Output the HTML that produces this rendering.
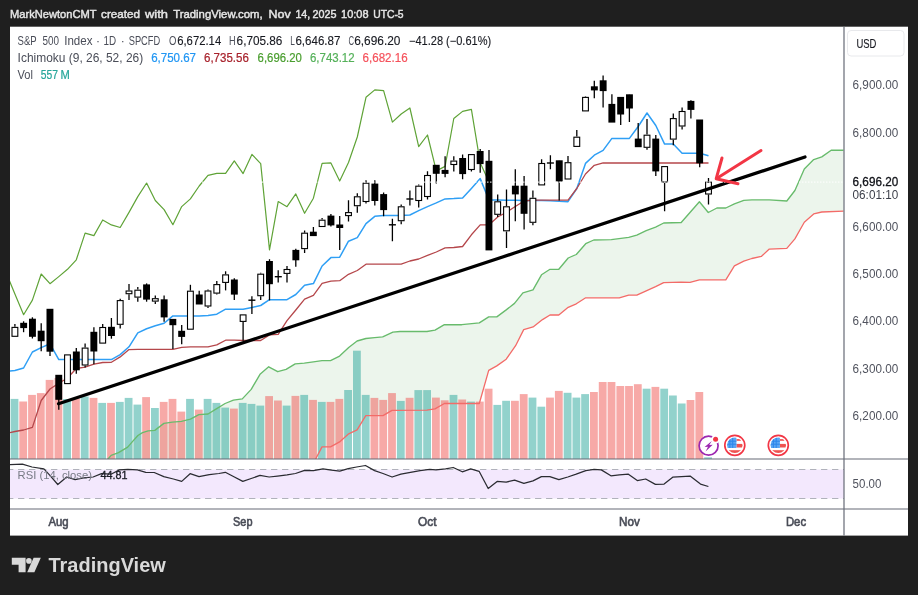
<!DOCTYPE html>
<html lang="en"><head><meta charset="utf-8"><title>S&amp;P 500 Index chart</title>
<style>
html,body{margin:0;padding:0;background:#1f1f1f;}
body{width:918px;height:595px;overflow:hidden;}
svg{display:block;font-family:'Liberation Sans', sans-serif;will-change:transform;}
text{-webkit-font-smoothing:antialiased;}
.txt{opacity:0.999;}
.leg{font-size:12px;}
.ax{font-size:12px;fill:#50535e;}
</style></head><body>
<svg width="918" height="595" viewBox="0 0 918 595">
<rect width="918" height="595" fill="#1f1f1f"/>
<rect x="10" y="26.7" width="898" height="508.9" fill="#ffffff"/>
<defs><clipPath id="main"><rect x="10" y="26.7" width="834" height="432.3"/></clipPath>
<clipPath id="rsi"><rect x="10" y="459" width="834" height="50"/></clipPath></defs>

<g clip-path="url(#main)">
<polygon points="107.6,459.5 111.1,455.4 118.5,452.7 127.7,447.1 132.4,441.6 137.9,435.5 142.5,432.7 148.1,430.8 154.8,430.4 163.9,423.4 172.3,422.1 181.4,421.3 190.4,419.1 198.9,414.6 208.0,414.0 216.7,408.6 225.1,403.5 233.4,400.1 242.3,398.9 251.2,389.4 260.0,374.3 268.7,366.8 277.7,371.7 286.1,369.3 295.2,363.8 304.3,363.2 313.4,361.8 322.0,360.6 330.5,360.6 339.6,356.1 348.7,347.5 357.1,341.0 365.9,338.5 374.6,337.6 382.7,336.8 392.9,332.1 400.0,331.5 426.9,331.5 435.0,330.1 444.4,324.7 461.8,324.7 479.3,322.9 488.7,316.9 496.8,316.9 506.2,309.9 514.5,303.4 522.9,292.9 533.0,289.9 541.5,274.8 550.0,269.3 558.8,269.3 568.2,258.0 576.3,254.5 585.7,243.7 593.8,240.0 611.3,239.7 628.7,237.3 636.8,235.1 646.2,230.6 655.6,227.1 663.7,223.0 681.2,222.5 699.4,201.8 708.3,212.5 716.9,208.0 725.8,208.0 734.4,203.9 743.8,200.4 751.8,199.9 769.3,199.9 786.8,201.0 794.9,190.5 804.3,169.0 813.7,159.6 821.8,156.9 831.2,150.2 843.5,150.2 843.5,211.2 821.8,212.0 813.7,213.9 804.3,222.2 794.9,238.9 786.8,248.3 769.3,249.1 761.3,256.4 751.8,258.5 743.8,261.2 734.4,265.8 725.8,279.8 699.4,279.8 690.0,282.3 681.2,282.2 663.7,282.7 655.6,286.7 646.2,290.8 636.8,295.1 628.7,295.1 619.3,297.8 585.7,297.8 576.3,303.8 568.2,307.3 558.8,315.0 550.0,315.0 542.5,319.6 533.1,326.9 523.7,329.6 515.6,345.7 506.2,359.2 496.8,365.9 488.7,370.4 479.3,403.5 444.4,403.5 435.0,408.9 426.9,410.2 392.0,410.4 383.0,415.6 365.8,415.6 357.1,429.8 348.7,433.8 339.6,441.9 330.5,446.9 322.0,446.9 315.4,459.5" fill="#43a047" fill-opacity="0.10"/>
<g>
<rect x="10.6" y="398.9" width="7.8" height="60.1" fill="#26a69a" fill-opacity="0.5"/>
<rect x="19.3" y="401.5" width="7.8" height="57.5" fill="#ef5350" fill-opacity="0.5"/>
<rect x="28.1" y="394.9" width="7.8" height="64.1" fill="#ef5350" fill-opacity="0.5"/>
<rect x="36.9" y="393.1" width="7.8" height="65.9" fill="#ef5350" fill-opacity="0.5"/>
<rect x="45.7" y="379.9" width="7.8" height="79.1" fill="#ef5350" fill-opacity="0.5"/>
<rect x="54.5" y="378.0" width="7.8" height="81.0" fill="#ef5350" fill-opacity="0.5"/>
<rect x="63.2" y="399.0" width="7.8" height="60.0" fill="#26a69a" fill-opacity="0.5"/>
<rect x="72.0" y="398.5" width="7.8" height="60.5" fill="#ef5350" fill-opacity="0.5"/>
<rect x="80.8" y="396.5" width="7.8" height="62.5" fill="#26a69a" fill-opacity="0.5"/>
<rect x="89.6" y="397.9" width="7.8" height="61.1" fill="#ef5350" fill-opacity="0.5"/>
<rect x="98.3" y="402.9" width="7.8" height="56.1" fill="#26a69a" fill-opacity="0.5"/>
<rect x="107.1" y="402.9" width="7.8" height="56.1" fill="#ef5350" fill-opacity="0.5"/>
<rect x="115.9" y="401.9" width="7.8" height="57.1" fill="#26a69a" fill-opacity="0.5"/>
<rect x="124.7" y="397.9" width="7.8" height="61.1" fill="#26a69a" fill-opacity="0.5"/>
<rect x="133.5" y="404.6" width="7.8" height="54.4" fill="#26a69a" fill-opacity="0.5"/>
<rect x="142.2" y="397.1" width="7.8" height="61.9" fill="#ef5350" fill-opacity="0.5"/>
<rect x="151.0" y="408.0" width="7.8" height="51.0" fill="#26a69a" fill-opacity="0.5"/>
<rect x="159.8" y="401.9" width="7.8" height="57.1" fill="#ef5350" fill-opacity="0.5"/>
<rect x="168.6" y="398.9" width="7.8" height="60.1" fill="#ef5350" fill-opacity="0.5"/>
<rect x="177.4" y="411.6" width="7.8" height="47.4" fill="#ef5350" fill-opacity="0.5"/>
<rect x="186.1" y="398.9" width="7.8" height="60.1" fill="#26a69a" fill-opacity="0.5"/>
<rect x="194.9" y="409.6" width="7.8" height="49.4" fill="#ef5350" fill-opacity="0.5"/>
<rect x="203.7" y="398.9" width="7.8" height="60.1" fill="#26a69a" fill-opacity="0.5"/>
<rect x="212.5" y="402.9" width="7.8" height="56.1" fill="#26a69a" fill-opacity="0.5"/>
<rect x="221.3" y="407.6" width="7.8" height="51.4" fill="#26a69a" fill-opacity="0.5"/>
<rect x="230.0" y="408.6" width="7.8" height="50.4" fill="#ef5350" fill-opacity="0.5"/>
<rect x="238.8" y="402.9" width="7.8" height="56.1" fill="#26a69a" fill-opacity="0.5"/>
<rect x="247.6" y="403.9" width="7.8" height="55.1" fill="#26a69a" fill-opacity="0.5"/>
<rect x="256.4" y="405.6" width="7.8" height="53.4" fill="#26a69a" fill-opacity="0.5"/>
<rect x="265.2" y="396.1" width="7.8" height="62.9" fill="#ef5350" fill-opacity="0.5"/>
<rect x="274.0" y="400.5" width="7.8" height="58.5" fill="#ef5350" fill-opacity="0.5"/>
<rect x="282.7" y="405.6" width="7.8" height="53.4" fill="#26a69a" fill-opacity="0.5"/>
<rect x="291.5" y="395.9" width="7.8" height="63.1" fill="#ef5350" fill-opacity="0.5"/>
<rect x="300.3" y="394.9" width="7.8" height="64.1" fill="#26a69a" fill-opacity="0.5"/>
<rect x="309.1" y="399.9" width="7.8" height="59.1" fill="#ef5350" fill-opacity="0.5"/>
<rect x="317.9" y="401.9" width="7.8" height="57.1" fill="#26a69a" fill-opacity="0.5"/>
<rect x="326.6" y="401.9" width="7.8" height="57.1" fill="#ef5350" fill-opacity="0.5"/>
<rect x="335.4" y="398.9" width="7.8" height="60.1" fill="#ef5350" fill-opacity="0.5"/>
<rect x="344.2" y="390.0" width="7.8" height="69.0" fill="#26a69a" fill-opacity="0.5"/>
<rect x="353.0" y="350.7" width="7.8" height="108.3" fill="#26a69a" fill-opacity="0.5"/>
<rect x="361.8" y="394.9" width="7.8" height="64.1" fill="#26a69a" fill-opacity="0.5"/>
<rect x="370.5" y="397.9" width="7.8" height="61.1" fill="#ef5350" fill-opacity="0.5"/>
<rect x="379.3" y="399.9" width="7.8" height="59.1" fill="#ef5350" fill-opacity="0.5"/>
<rect x="388.1" y="393.1" width="7.8" height="65.9" fill="#ef5350" fill-opacity="0.5"/>
<rect x="396.9" y="400.9" width="7.8" height="58.1" fill="#26a69a" fill-opacity="0.5"/>
<rect x="405.7" y="397.8" width="7.8" height="61.2" fill="#ef5350" fill-opacity="0.5"/>
<rect x="414.4" y="390.1" width="7.8" height="68.9" fill="#26a69a" fill-opacity="0.5"/>
<rect x="423.2" y="390.1" width="7.8" height="68.9" fill="#26a69a" fill-opacity="0.5"/>
<rect x="432.0" y="397.6" width="7.8" height="61.4" fill="#ef5350" fill-opacity="0.5"/>
<rect x="440.8" y="400.3" width="7.8" height="58.7" fill="#ef5350" fill-opacity="0.5"/>
<rect x="449.6" y="394.9" width="7.8" height="64.1" fill="#26a69a" fill-opacity="0.5"/>
<rect x="458.3" y="399.5" width="7.8" height="59.5" fill="#ef5350" fill-opacity="0.5"/>
<rect x="467.1" y="401.6" width="7.8" height="57.4" fill="#26a69a" fill-opacity="0.5"/>
<rect x="475.9" y="401.6" width="7.8" height="57.4" fill="#ef5350" fill-opacity="0.5"/>
<rect x="484.7" y="388.7" width="7.8" height="70.3" fill="#ef5350" fill-opacity="0.5"/>
<rect x="493.4" y="404.9" width="7.8" height="54.1" fill="#26a69a" fill-opacity="0.5"/>
<rect x="502.2" y="400.8" width="7.8" height="58.2" fill="#26a69a" fill-opacity="0.5"/>
<rect x="511.0" y="400.8" width="7.8" height="58.2" fill="#ef5350" fill-opacity="0.5"/>
<rect x="519.8" y="394.1" width="7.8" height="64.9" fill="#ef5350" fill-opacity="0.5"/>
<rect x="528.6" y="397.6" width="7.8" height="61.4" fill="#26a69a" fill-opacity="0.5"/>
<rect x="537.4" y="406.7" width="7.8" height="52.3" fill="#26a69a" fill-opacity="0.5"/>
<rect x="546.1" y="397.6" width="7.8" height="61.4" fill="#ef5350" fill-opacity="0.5"/>
<rect x="554.9" y="390.9" width="7.8" height="68.1" fill="#ef5350" fill-opacity="0.5"/>
<rect x="563.7" y="392.8" width="7.8" height="66.2" fill="#26a69a" fill-opacity="0.5"/>
<rect x="572.5" y="397.6" width="7.8" height="61.4" fill="#26a69a" fill-opacity="0.5"/>
<rect x="581.2" y="394.1" width="7.8" height="64.9" fill="#26a69a" fill-opacity="0.5"/>
<rect x="590.0" y="392.0" width="7.8" height="67.0" fill="#ef5350" fill-opacity="0.5"/>
<rect x="598.8" y="382.0" width="7.8" height="77.0" fill="#ef5350" fill-opacity="0.5"/>
<rect x="607.6" y="382.0" width="7.8" height="77.0" fill="#ef5350" fill-opacity="0.5"/>
<rect x="616.4" y="386.0" width="7.8" height="73.0" fill="#ef5350" fill-opacity="0.5"/>
<rect x="625.1" y="386.0" width="7.8" height="73.0" fill="#ef5350" fill-opacity="0.5"/>
<rect x="633.9" y="384.2" width="7.8" height="74.8" fill="#ef5350" fill-opacity="0.5"/>
<rect x="642.7" y="388.7" width="7.8" height="70.3" fill="#26a69a" fill-opacity="0.5"/>
<rect x="651.5" y="386.9" width="7.8" height="72.1" fill="#ef5350" fill-opacity="0.5"/>
<rect x="660.3" y="388.7" width="7.8" height="70.3" fill="#26a69a" fill-opacity="0.5"/>
<rect x="669.0" y="395.5" width="7.8" height="63.5" fill="#26a69a" fill-opacity="0.5"/>
<rect x="677.8" y="403.5" width="7.8" height="55.5" fill="#26a69a" fill-opacity="0.5"/>
<rect x="686.6" y="400.0" width="7.8" height="59.0" fill="#ef5350" fill-opacity="0.5"/>
<rect x="695.4" y="392.0" width="7.8" height="67.0" fill="#ef5350" fill-opacity="0.5"/>
<rect x="704.2" y="457.3" width="7.8" height="1.7" fill="#26a69a" fill-opacity="0.5"/>
</g>
<polyline points="107.6,459.5 111.1,455.4 118.5,452.7 127.7,447.1 132.4,441.6 137.9,435.5 142.5,432.7 148.1,430.8 154.8,430.4 163.9,423.4 172.3,422.1 181.4,421.3 190.4,419.1 198.9,414.6 208.0,414.0 216.7,408.6 225.1,403.5 233.4,400.1 242.3,398.9 251.2,389.4 260.0,374.3 268.7,366.8 277.7,371.7 286.1,369.3 295.2,363.8 304.3,363.2 313.4,361.8 322.0,360.6 330.5,360.6 339.6,356.1 348.7,347.5 357.1,341.0 365.9,338.5 374.6,337.6 382.7,336.8 392.9,332.1 400.0,331.5 426.9,331.5 435.0,330.1 444.4,324.7 461.8,324.7 479.3,322.9 488.7,316.9 496.8,316.9 506.2,309.9 514.5,303.4 522.9,292.9 533.0,289.9 541.5,274.8 550.0,269.3 558.8,269.3 568.2,258.0 576.3,254.5 585.7,243.7 593.8,240.0 611.3,239.7 628.7,237.3 636.8,235.1 646.2,230.6 655.6,227.1 663.7,223.0 681.2,222.5 699.4,201.8 708.3,212.5 716.9,208.0 725.8,208.0 734.4,203.9 743.8,200.4 751.8,199.9 769.3,199.9 786.8,201.0 794.9,190.5 804.3,169.0 813.7,159.6 821.8,156.9 831.2,150.2 843.5,150.2" fill="none" stroke="#68bb6c" stroke-width="1.35" stroke-linejoin="round"/>
<polyline points="315.4,459.5 322.0,446.9 330.5,446.9 339.6,441.9 348.7,433.8 357.1,429.8 365.8,415.6 383.0,415.6 392.0,410.4 426.9,410.2 435.0,408.9 444.4,403.5 479.3,403.5 488.7,370.4 496.8,365.9 506.2,359.2 515.6,345.7 523.7,329.6 533.1,326.9 542.5,319.6 550.0,315.0 558.8,315.0 568.2,307.3 576.3,303.8 585.7,297.8 619.3,297.8 628.7,295.1 636.8,295.1 646.2,290.8 655.6,286.7 663.7,282.7 681.2,282.2 690.0,282.3 699.4,279.8 725.8,279.8 734.4,265.8 743.8,261.2 751.8,258.5 761.3,256.4 769.3,249.1 786.8,248.3 794.9,238.9 804.3,222.2 813.7,213.9 821.8,212.0 843.5,211.2" fill="none" stroke="#f36b68" stroke-width="1.3" stroke-linejoin="round"/>
<polyline points="6.1,371.5 14.9,370.5 23.6,368.0 32.4,352.0 41.2,347.6 50.0,343.8 58.8,359.6 67.5,359.6 76.3,359.6 85.1,359.6 93.9,359.6 102.7,359.6 111.4,359.6 120.2,354.6 129.0,346.8 137.8,332.9 146.6,328.7 155.3,325.8 164.1,323.3 172.9,315.9 181.7,315.9 190.4,315.9 199.2,315.9 208.0,315.6 216.8,314.2 225.6,309.2 234.3,309.2 243.1,309.2 251.9,307.5 260.7,305.5 269.5,299.7 278.2,299.7 287.0,299.7 295.8,294.5 304.6,285.3 313.4,283.6 322.1,266.0 330.9,257.6 339.7,257.2 348.5,241.2 357.3,237.6 366.0,223.6 374.8,216.3 383.6,215.6 392.4,215.6 401.2,215.6 409.9,215.0 418.7,210.6 427.5,206.6 436.3,202.9 445.1,198.9 453.8,198.5 462.6,197.9 471.4,188.4 480.2,178.6 489.0,200.0 497.7,200.1 506.5,200.2 515.3,200.3 524.1,200.4 532.9,200.5 541.6,200.6 550.4,200.8 559.2,201.2 568.0,201.7 576.8,188.5 585.5,163.4 594.3,155.2 603.1,150.4 611.9,138.4 620.7,138.4 629.4,138.4 638.2,126.5 647.0,113.0 655.8,125.5 664.6,144.1 673.3,144.1 682.1,153.2 690.9,153.2 699.7,153.2 708.5,155.8" fill="none" stroke="#2f9ff5" stroke-width="1.5" stroke-linejoin="round"/>
<polyline points="6.1,433.5 14.9,431.5 23.6,430.0 32.4,427.4 41.2,400.5 50.0,389.0 58.8,383.3 67.5,378.0 76.3,368.5 85.1,367.2 93.9,364.2 102.7,362.5 111.4,362.3 120.2,356.9 129.0,349.6 137.8,349.4 146.6,349.4 155.3,349.4 164.1,349.4 172.9,349.4 181.7,347.3 190.4,346.9 199.2,346.9 208.0,346.9 216.8,344.9 225.6,340.2 234.3,340.2 243.1,340.5 251.9,340.5 260.7,340.5 269.5,334.9 278.2,334.4 287.0,320.6 295.8,310.0 304.6,299.1 313.4,295.4 322.1,283.4 330.9,281.1 339.7,280.7 348.5,274.3 357.3,270.5 366.0,264.2 374.8,264.2 383.6,264.2 392.4,264.2 401.2,264.2 409.9,261.0 418.7,259.0 427.5,255.4 436.3,252.0 445.1,247.9 453.8,247.5 462.6,246.5 471.4,234.8 480.2,224.9 489.0,224.8 497.7,217.0 506.5,212.3 515.3,206.5 524.1,201.0 532.9,200.2 541.6,200.2 550.4,200.2 559.2,200.2 568.0,200.2 576.8,188.5 585.5,174.0 594.3,165.3 603.1,162.9 611.9,163.0 620.7,163.0 629.4,163.0 638.2,163.0 647.0,163.0 655.8,163.0 664.6,163.0 673.3,163.0 682.1,163.0 690.9,163.0 699.7,163.0 708.5,163.0" fill="none" stroke="#b5474b" stroke-width="1.3" stroke-linejoin="round"/>
<polyline points="6.1,272.5 14.9,294.1 23.6,314.7 32.4,300.1 41.2,274.0 50.0,283.7 58.8,276.6 67.5,269.3 76.3,259.8 85.1,233.1 93.9,235.6 102.7,220.0 111.4,224.9 120.2,227.5 129.0,212.4 137.8,196.6 146.6,183.0 155.3,200.5 164.1,209.6 172.9,224.7 181.7,206.6 190.4,198.9 199.2,186.0 208.0,175.3 216.8,173.3 225.6,173.4 234.3,160.9 243.1,173.6 251.9,154.4 260.7,163.6 269.5,249.9 278.2,201.6 287.0,206.7 295.8,193.9 304.6,213.3 313.4,198.2 322.1,163.3 330.9,162.9 339.7,181.0 348.5,162.5 357.3,137.0 366.0,97.3 374.8,89.9 383.6,90.6 392.4,122.1 401.2,114.0 409.9,108.0 418.7,146.7 427.5,135.0 436.3,170.9 445.1,166.4 453.8,118.5 462.6,111.4 471.4,109.4 480.2,162.8 489.0,182.0" fill="none" stroke="#5fa337" stroke-width="1.2" stroke-linejoin="round"/>
<g stroke="#000" stroke-width="1.3">
<line x1="14.9" y1="323.9" x2="14.9" y2="326.8"/>
<rect x="12.0" y="327.4" width="5.8" height="8.9" fill="#fff" stroke-width="1.1"/>
<line x1="23.6" y1="321.3" x2="23.6" y2="332.2"/>
<rect x="20.2" y="322.8" width="6.9" height="5.3" fill="#000" stroke="none"/>
<line x1="32.4" y1="317.3" x2="32.4" y2="338.5"/>
<rect x="29.0" y="318.7" width="6.9" height="18.1" fill="#000" stroke="none"/>
<line x1="41.2" y1="323.2" x2="41.2" y2="351.2"/>
<rect x="37.7" y="330.7" width="6.9" height="10.5" fill="#000" stroke="none"/>
<line x1="50.0" y1="309.2" x2="50.0" y2="356.0"/>
<rect x="46.5" y="308.8" width="6.9" height="42.9" fill="#000" stroke="none"/>
<line x1="58.8" y1="375.2" x2="58.8" y2="409.8"/>
<rect x="55.3" y="374.8" width="6.9" height="25.0" fill="#000" stroke="none"/>
<rect x="64.6" y="354.9" width="5.8" height="28.7" fill="#fff" stroke-width="1.1"/>
<line x1="76.3" y1="347.9" x2="76.3" y2="373.7"/>
<rect x="72.9" y="351.5" width="6.9" height="18.8" fill="#000" stroke="none"/>
<line x1="85.1" y1="343.6" x2="85.1" y2="347.5"/>
<line x1="85.1" y1="365.5" x2="85.1" y2="367.6"/>
<rect x="82.2" y="348.1" width="5.8" height="16.9" fill="#fff" stroke-width="1.1"/>
<line x1="93.9" y1="327.2" x2="93.9" y2="364.2"/>
<rect x="90.4" y="331.8" width="6.9" height="19.7" fill="#000" stroke="none"/>
<line x1="102.7" y1="324.0" x2="102.7" y2="326.9"/>
<rect x="99.8" y="327.5" width="5.8" height="15.6" fill="#fff" stroke-width="1.1"/>
<line x1="111.4" y1="318.0" x2="111.4" y2="338.7"/>
<rect x="108.0" y="326.8" width="6.9" height="9.2" fill="#000" stroke="none"/>
<line x1="120.2" y1="298.7" x2="120.2" y2="300.0"/>
<line x1="120.2" y1="324.8" x2="120.2" y2="328.6"/>
<rect x="117.3" y="300.6" width="5.8" height="23.7" fill="#fff" stroke-width="1.1"/>
<line x1="129.0" y1="284.0" x2="129.0" y2="290.4"/>
<line x1="129.0" y1="294.2" x2="129.0" y2="300.1"/>
<rect x="126.1" y="291.0" width="5.8" height="2.7" fill="#fff" stroke-width="1.1"/>
<line x1="137.8" y1="287.0" x2="137.8" y2="289.6"/>
<line x1="137.8" y1="297.6" x2="137.8" y2="301.7"/>
<rect x="134.9" y="290.2" width="5.8" height="6.9" fill="#fff" stroke-width="1.1"/>
<line x1="146.6" y1="283.4" x2="146.6" y2="301.7"/>
<rect x="143.1" y="284.4" width="6.9" height="15.2" fill="#000" stroke="none"/>
<line x1="155.3" y1="295.5" x2="155.3" y2="298.1"/>
<line x1="155.3" y1="301.6" x2="155.3" y2="304.0"/>
<rect x="152.4" y="298.7" width="5.8" height="2.4" fill="#fff" stroke-width="1.1"/>
<line x1="164.1" y1="295.5" x2="164.1" y2="321.7"/>
<rect x="160.7" y="299.3" width="6.9" height="18.1" fill="#000" stroke="none"/>
<line x1="172.9" y1="319.3" x2="172.9" y2="348.9"/>
<rect x="169.4" y="318.9" width="6.9" height="6.3" fill="#000" stroke="none"/>
<line x1="181.7" y1="325.1" x2="181.7" y2="344.3"/>
<rect x="178.2" y="330.8" width="6.9" height="6.1" fill="#000" stroke="none"/>
<line x1="190.4" y1="284.8" x2="190.4" y2="290.6"/>
<rect x="187.5" y="291.2" width="5.8" height="38.0" fill="#fff" stroke-width="1.1"/>
<line x1="199.2" y1="290.8" x2="199.2" y2="304.0"/>
<rect x="195.8" y="294.5" width="6.9" height="10.0" fill="#000" stroke="none"/>
<line x1="208.0" y1="289.4" x2="208.0" y2="290.4"/>
<line x1="208.0" y1="306.5" x2="208.0" y2="308.0"/>
<rect x="205.1" y="291.0" width="5.8" height="15.0" fill="#fff" stroke-width="1.1"/>
<line x1="216.8" y1="281.0" x2="216.8" y2="284.0"/>
<line x1="216.8" y1="293.6" x2="216.8" y2="294.5"/>
<rect x="213.9" y="284.6" width="5.8" height="8.5" fill="#fff" stroke-width="1.1"/>
<line x1="225.6" y1="271.3" x2="225.6" y2="274.3"/>
<line x1="225.6" y1="282.9" x2="225.6" y2="290.4"/>
<rect x="222.7" y="274.9" width="5.8" height="7.5" fill="#fff" stroke-width="1.1"/>
<line x1="234.3" y1="278.3" x2="234.3" y2="300.1"/>
<rect x="230.9" y="279.5" width="6.9" height="15.1" fill="#000" stroke="none"/>
<line x1="243.1" y1="321.9" x2="243.1" y2="340.8"/>
<rect x="240.2" y="314.9" width="5.8" height="6.5" fill="#fff" stroke-width="1.1"/>
<line x1="251.9" y1="296.2" x2="251.9" y2="313.9"/>
<rect x="248.4" y="299.5" width="7" height="1.4" fill="#000" stroke="none"/>
<line x1="260.7" y1="272.7" x2="260.7" y2="273.6"/>
<line x1="260.7" y1="296.2" x2="260.7" y2="300.1"/>
<rect x="257.8" y="274.2" width="5.8" height="21.5" fill="#fff" stroke-width="1.1"/>
<line x1="269.5" y1="259.2" x2="269.5" y2="300.4"/>
<rect x="266.0" y="261.0" width="6.9" height="23.2" fill="#000" stroke="none"/>
<line x1="278.2" y1="270.2" x2="278.2" y2="282.5"/>
<rect x="274.8" y="276.0" width="7" height="1.4" fill="#000" stroke="none"/>
<line x1="287.0" y1="266.0" x2="287.0" y2="268.9"/>
<line x1="287.0" y1="273.9" x2="287.0" y2="282.5"/>
<rect x="284.1" y="269.5" width="5.8" height="3.9" fill="#fff" stroke-width="1.1"/>
<line x1="295.8" y1="248.7" x2="295.8" y2="266.8"/>
<rect x="292.4" y="249.9" width="6.9" height="10.4" fill="#000" stroke="none"/>
<line x1="304.6" y1="230.5" x2="304.6" y2="232.7"/>
<line x1="304.6" y1="249.2" x2="304.6" y2="253.1"/>
<rect x="301.7" y="233.2" width="5.8" height="15.4" fill="#fff" stroke-width="1.1"/>
<line x1="313.4" y1="227.1" x2="313.4" y2="235.6"/>
<rect x="309.9" y="231.7" width="6.9" height="4.4" fill="#000" stroke="none"/>
<line x1="322.1" y1="218.0" x2="322.1" y2="219.6"/>
<rect x="319.2" y="220.2" width="5.8" height="6.3" fill="#fff" stroke-width="1.1"/>
<line x1="330.9" y1="214.0" x2="330.9" y2="226.5"/>
<rect x="327.5" y="215.6" width="6.9" height="9.8" fill="#000" stroke="none"/>
<line x1="339.7" y1="216.0" x2="339.7" y2="250.1"/>
<rect x="336.3" y="224.5" width="6.9" height="3.5" fill="#000" stroke="none"/>
<line x1="348.5" y1="200.3" x2="348.5" y2="212.0"/>
<line x1="348.5" y1="216.1" x2="348.5" y2="221.4"/>
<rect x="345.6" y="212.6" width="5.8" height="3.0" fill="#fff" stroke-width="1.1"/>
<line x1="357.3" y1="193.2" x2="357.3" y2="196.2"/>
<line x1="357.3" y1="206.2" x2="357.3" y2="212.8"/>
<rect x="354.4" y="196.8" width="5.8" height="8.9" fill="#fff" stroke-width="1.1"/>
<line x1="366.0" y1="180.2" x2="366.0" y2="182.6"/>
<line x1="366.0" y1="202.0" x2="366.0" y2="203.6"/>
<rect x="363.1" y="183.2" width="5.8" height="18.3" fill="#fff" stroke-width="1.1"/>
<line x1="374.8" y1="180.3" x2="374.8" y2="205.6"/>
<rect x="371.4" y="183.6" width="6.9" height="17.4" fill="#000" stroke="none"/>
<line x1="383.6" y1="192.5" x2="383.6" y2="216.3"/>
<rect x="380.2" y="194.1" width="6.9" height="16.0" fill="#000" stroke="none"/>
<line x1="392.4" y1="218.7" x2="392.4" y2="241.3"/>
<rect x="388.9" y="224.1" width="7" height="1.4" fill="#000" stroke="none"/>
<line x1="401.2" y1="204.6" x2="401.2" y2="206.2"/>
<line x1="401.2" y1="221.2" x2="401.2" y2="224.3"/>
<rect x="398.3" y="206.8" width="5.8" height="13.9" fill="#fff" stroke-width="1.1"/>
<line x1="409.9" y1="190.4" x2="409.9" y2="205.6"/>
<rect x="406.4" y="198.3" width="7" height="1.4" fill="#000" stroke="none"/>
<line x1="418.7" y1="184.4" x2="418.7" y2="185.6"/>
<line x1="418.7" y1="201.0" x2="418.7" y2="207.6"/>
<rect x="415.8" y="186.2" width="5.8" height="14.3" fill="#fff" stroke-width="1.1"/>
<line x1="427.5" y1="171.3" x2="427.5" y2="174.9"/>
<line x1="427.5" y1="197.0" x2="427.5" y2="199.5"/>
<rect x="424.6" y="175.5" width="5.8" height="21.0" fill="#fff" stroke-width="1.1"/>
<line x1="436.3" y1="165.2" x2="436.3" y2="183.4"/>
<rect x="432.8" y="164.8" width="6.9" height="9.0" fill="#000" stroke="none"/>
<line x1="445.1" y1="156.2" x2="445.1" y2="177.3"/>
<rect x="441.6" y="169.9" width="6.9" height="4.0" fill="#000" stroke="none"/>
<line x1="453.8" y1="156.2" x2="453.8" y2="160.5"/>
<line x1="453.8" y1="165.0" x2="453.8" y2="171.6"/>
<rect x="450.9" y="161.1" width="5.8" height="3.4" fill="#fff" stroke-width="1.1"/>
<line x1="462.6" y1="154.4" x2="462.6" y2="179.2"/>
<rect x="459.2" y="158.0" width="6.9" height="16.1" fill="#000" stroke="none"/>
<line x1="471.4" y1="170.0" x2="471.4" y2="171.6"/>
<rect x="468.5" y="154.6" width="5.8" height="14.9" fill="#fff" stroke-width="1.1"/>
<line x1="480.2" y1="149.1" x2="480.2" y2="172.8"/>
<rect x="476.7" y="151.0" width="6.9" height="13.1" fill="#000" stroke="none"/>
<line x1="489.0" y1="150.1" x2="489.0" y2="249.9"/>
<rect x="485.5" y="160.8" width="6.9" height="89.6" fill="#000" stroke="none"/>
<line x1="497.7" y1="194.6" x2="497.7" y2="201.2"/>
<line x1="497.7" y1="214.8" x2="497.7" y2="217.1"/>
<rect x="494.8" y="201.8" width="5.8" height="12.5" fill="#fff" stroke-width="1.1"/>
<line x1="506.5" y1="189.5" x2="506.5" y2="206.3"/>
<line x1="506.5" y1="231.4" x2="506.5" y2="248.0"/>
<rect x="503.6" y="206.8" width="5.8" height="24.0" fill="#fff" stroke-width="1.1"/>
<line x1="515.3" y1="169.3" x2="515.3" y2="221.2"/>
<rect x="511.9" y="185.7" width="6.9" height="8.7" fill="#000" stroke="none"/>
<line x1="524.1" y1="176.0" x2="524.1" y2="229.5"/>
<rect x="520.6" y="185.7" width="6.9" height="28.1" fill="#000" stroke="none"/>
<line x1="532.9" y1="190.5" x2="532.9" y2="197.8"/>
<line x1="532.9" y1="222.9" x2="532.9" y2="225.2"/>
<rect x="530.0" y="198.3" width="5.8" height="24.0" fill="#fff" stroke-width="1.1"/>
<line x1="541.6" y1="159.3" x2="541.6" y2="162.9"/>
<rect x="538.8" y="163.5" width="5.8" height="21.4" fill="#fff" stroke-width="1.1"/>
<line x1="550.4" y1="155.2" x2="550.4" y2="169.3"/>
<rect x="546.9" y="162.3" width="7" height="1.4" fill="#000" stroke="none"/>
<line x1="559.2" y1="160.7" x2="559.2" y2="200.6"/>
<rect x="555.8" y="160.3" width="6.9" height="21.2" fill="#000" stroke="none"/>
<line x1="568.0" y1="156.0" x2="568.0" y2="162.1"/>
<rect x="565.1" y="162.7" width="5.8" height="16.3" fill="#fff" stroke-width="1.1"/>
<line x1="576.8" y1="130.0" x2="576.8" y2="136.6"/>
<rect x="573.9" y="137.2" width="5.8" height="9.2" fill="#fff" stroke-width="1.1"/>
<line x1="585.5" y1="96.5" x2="585.5" y2="96.9"/>
<rect x="582.6" y="97.4" width="5.8" height="13.5" fill="#fff" stroke-width="1.1"/>
<line x1="594.3" y1="80.7" x2="594.3" y2="98.3"/>
<rect x="590.9" y="86.3" width="6.9" height="4.1" fill="#000" stroke="none"/>
<line x1="603.1" y1="75.5" x2="603.1" y2="107.4"/>
<rect x="599.7" y="80.3" width="6.9" height="10.8" fill="#000" stroke="none"/>
<line x1="611.9" y1="94.3" x2="611.9" y2="122.1"/>
<rect x="608.4" y="103.9" width="6.9" height="18.7" fill="#000" stroke="none"/>
<line x1="620.7" y1="97.3" x2="620.7" y2="125.1"/>
<rect x="617.2" y="96.9" width="6.9" height="17.6" fill="#000" stroke="none"/>
<line x1="629.4" y1="94.7" x2="629.4" y2="122.1"/>
<rect x="626.0" y="94.3" width="6.9" height="14.2" fill="#000" stroke="none"/>
<line x1="638.2" y1="123.1" x2="638.2" y2="146.7"/>
<rect x="634.8" y="138.6" width="6.9" height="8.6" fill="#000" stroke="none"/>
<line x1="647.0" y1="119.1" x2="647.0" y2="134.6"/>
<line x1="647.0" y1="147.8" x2="647.0" y2="149.7"/>
<rect x="644.1" y="135.2" width="5.8" height="12.1" fill="#fff" stroke-width="1.1"/>
<line x1="655.8" y1="135.0" x2="655.8" y2="176.0"/>
<rect x="652.3" y="138.6" width="6.9" height="32.8" fill="#000" stroke="none"/>
<line x1="664.6" y1="182.5" x2="664.6" y2="211.2"/>
<rect x="661.7" y="166.6" width="5.8" height="15.4" fill="#fff" stroke-width="1.1"/>
<line x1="673.3" y1="113.4" x2="673.3" y2="118.1"/>
<line x1="673.3" y1="139.7" x2="673.3" y2="145.3"/>
<rect x="670.4" y="118.6" width="5.8" height="20.5" fill="#fff" stroke-width="1.1"/>
<line x1="682.1" y1="107.4" x2="682.1" y2="111.0"/>
<line x1="682.1" y1="126.6" x2="682.1" y2="129.4"/>
<rect x="679.2" y="111.5" width="5.8" height="14.5" fill="#fff" stroke-width="1.1"/>
<line x1="690.9" y1="100.3" x2="690.9" y2="118.5"/>
<rect x="687.5" y="100.9" width="6.9" height="9.0" fill="#000" stroke="none"/>
<line x1="699.7" y1="119.9" x2="699.7" y2="167.3"/>
<rect x="696.2" y="119.5" width="6.9" height="43.8" fill="#000" stroke="none"/>
<line x1="708.5" y1="178.0" x2="708.5" y2="181.6"/>
<line x1="708.5" y1="194.5" x2="708.5" y2="204.6"/>
<rect x="705.6" y="182.2" width="5.8" height="11.8" fill="#fff" stroke-width="1.1"/>
</g>
<line x1="58.5" y1="403.8" x2="805" y2="157" stroke="#000" stroke-width="3.2" stroke-linecap="round"/>
<line x1="10" y1="182.1" x2="844" y2="182.1" stroke="#ffffff" stroke-width="1" stroke-dasharray="1.5 1.5"/>
<g fill="none" stroke="#f23645" stroke-width="3" stroke-linecap="round" stroke-linejoin="round"><path d="M761 150.6 L716.6 178.4"/><path d="M722 158 L716.2 178.7 L738 183.7"/></g>
<g transform="translate(708.6,445.7)"><circle r="9.5" fill="#fff" stroke="#9c27b0" stroke-width="1.7"/><path d="M3.2 -4.6 L-4.0 1.4 L-0.6 1.0 L-3.0 5.7 L4.1 -1.0 L0.7 -0.6 Z" fill="#9c27b0"/><circle cx="7.0" cy="-6.5" r="4.2" fill="#fff"/><circle cx="7.0" cy="-6.5" r="2.5" fill="#f23645"/></g>
<g transform="translate(734.8,445.3)"><circle r="10" fill="#fff" stroke="#f23645" stroke-width="1.7"/><clipPath id="fc734"><circle r="7.7"/></clipPath><g clip-path="url(#fc734)"><rect x="-9" y="-9" width="18" height="18" fill="#fff"/><rect x="1.6" y="-6.2" width="8" height="1.7" fill="#ef5350"/><rect x="1.6" y="-1.4" width="8" height="3.6" fill="#ef5350"/><rect x="-9" y="4.9" width="18" height="4" fill="#ef5350"/><rect x="-9" y="-9" width="10.6" height="11.7" fill="#5aa5f3"/><rect x="-9" y="-4.6" width="10.6" height="1" fill="#2d87ea"/><rect x="-9" y="-1.6" width="10.6" height="1" fill="#2d87ea"/><rect x="-5.4" y="-9" width="1" height="11.7" fill="#2d87ea"/><rect x="-2.6" y="-9" width="1" height="11.7" fill="#2d87ea"/></g></g>
<g transform="translate(778.3,445.3)"><circle r="10" fill="#fff" stroke="#f23645" stroke-width="1.7"/><clipPath id="fc778"><circle r="7.7"/></clipPath><g clip-path="url(#fc778)"><rect x="-9" y="-9" width="18" height="18" fill="#fff"/><rect x="1.6" y="-6.2" width="8" height="1.7" fill="#ef5350"/><rect x="1.6" y="-1.4" width="8" height="3.6" fill="#ef5350"/><rect x="-9" y="4.9" width="18" height="4" fill="#ef5350"/><rect x="-9" y="-9" width="10.6" height="11.7" fill="#5aa5f3"/><rect x="-9" y="-4.6" width="10.6" height="1" fill="#2d87ea"/><rect x="-9" y="-1.6" width="10.6" height="1" fill="#2d87ea"/><rect x="-5.4" y="-9" width="1" height="11.7" fill="#2d87ea"/><rect x="-2.6" y="-9" width="1" height="11.7" fill="#2d87ea"/></g></g>
</g>
<g clip-path="url(#rsi)">
<rect x="10" y="469.5" width="834" height="29" fill="#f3e8fd"/>
<line x1="10" y1="469.5" x2="844" y2="469.5" stroke="#b0b2bb" stroke-width="1.1" stroke-dasharray="6.3 4.7" stroke-dashoffset="2.95"/>
<line x1="10" y1="498.5" x2="844" y2="498.5" stroke="#b0b2bb" stroke-width="1.1" stroke-dasharray="6.3 4.7" stroke-dashoffset="2.95"/>
<polyline points="10.0,464.6 22.4,464.1 32.0,467.0 43.9,468.9 49.9,475.4 57.8,484.5 66.7,477.0 75.1,479.7 83.5,477.8 93.1,477.0 101.5,473.7 111.0,474.2 119.4,469.9 127.8,469.4 137.4,469.9 145.8,472.3 154.2,472.5 163.8,476.6 173.4,479.0 181.7,481.4 190.1,473.7 199.0,476.6 209.3,474.6 218.9,473.5 225.3,472.3 234.4,477.0 242.8,481.4 251.2,478.5 260.0,475.4 269.1,477.0 277.5,476.1 287.1,474.9 295.5,473.5 303.9,470.6 313.5,470.6 323.0,468.9 331.4,470.1 339.8,471.1 348.2,468.7 356.6,467.0 365.5,465.5 374.6,470.6 383.0,473.5 392.1,477.0 400.9,474.2 410.5,472.3 420.1,470.6 429.7,469.4 436.0,469.9 445.6,468.9 453.2,467.5 462.3,471.8 470.7,468.9 479.1,471.3 488.2,488.5 497.1,481.4 506.2,482.1 514.6,480.2 523.9,483.3 533.0,480.9 541.4,476.6 549.8,476.6 558.9,479.7 567.8,477.0 576.2,474.2 585.8,470.6 594.1,469.4 601.3,469.9 610.9,475.8 619.3,474.9 628.4,474.2 637.3,480.6 645.7,479.0 655.4,484.4 664.1,484.1 672.7,477.2 681.5,476.6 690.1,476.1 700.5,484.1 708.4,486.5" fill="none" stroke="#2a2b31" stroke-width="1.25" stroke-linejoin="round"/>
</g>
<g stroke="#666a76" stroke-width="1.2">
<line x1="10" y1="459" x2="908" y2="459"/><line x1="10" y1="509" x2="908" y2="509"/>
<line x1="844" y1="26.7" x2="844" y2="535.6"/></g>
<g class="txt">
<text class="leg" x="10.0" y="18.4" textLength="86.5" lengthAdjust="spacingAndGlyphs" fill="#e6e6e6" style="font-size:11.6px;stroke:#e6e6e6;stroke-width:0.45px">MarkNewtonCMT</text>
<text class="leg" x="101.1" y="18.4" textLength="38.9" lengthAdjust="spacingAndGlyphs" fill="#e6e6e6" style="font-size:11.6px;stroke:#e6e6e6;stroke-width:0.45px">created</text>
<text class="leg" x="145.0" y="18.4" textLength="22.9" lengthAdjust="spacingAndGlyphs" fill="#e6e6e6" style="font-size:11.6px;stroke:#e6e6e6;stroke-width:0.45px">with</text>
<text class="leg" x="173.2" y="18.4" textLength="89.5" lengthAdjust="spacingAndGlyphs" fill="#e6e6e6" style="font-size:11.6px;stroke:#e6e6e6;stroke-width:0.45px">TradingView.com,</text>
<text class="leg" x="268.6" y="18.4" textLength="22.2" lengthAdjust="spacingAndGlyphs" fill="#e6e6e6" style="font-size:11.6px;stroke:#e6e6e6;stroke-width:0.45px">Nov</text>
<text class="leg" x="295.4" y="18.4" textLength="14.8" lengthAdjust="spacingAndGlyphs" fill="#e6e6e6" style="font-size:11.6px;stroke:#e6e6e6;stroke-width:0.45px">14,</text>
<text class="leg" x="312.5" y="18.4" textLength="24.0" lengthAdjust="spacingAndGlyphs" fill="#e6e6e6" style="font-size:11.6px;stroke:#e6e6e6;stroke-width:0.45px">2025</text>
<text class="leg" x="341.1" y="18.4" textLength="27.5" lengthAdjust="spacingAndGlyphs" fill="#e6e6e6" style="font-size:11.6px;stroke:#e6e6e6;stroke-width:0.45px">10:08</text>
<text class="leg" x="373.2" y="18.4" textLength="30.4" lengthAdjust="spacingAndGlyphs" fill="#e6e6e6" style="font-size:11.6px;stroke:#e6e6e6;stroke-width:0.45px">UTC-5</text>
<text class="leg" x="17.6" y="45" textLength="19.1" lengthAdjust="spacingAndGlyphs" fill="#4a4d58">S&amp;P</text>
<text class="leg" x="42.4" y="45" textLength="16.5" lengthAdjust="spacingAndGlyphs" fill="#4a4d58">500</text>
<text class="leg" x="64.2" y="45" textLength="28.3" lengthAdjust="spacingAndGlyphs" fill="#4a4d58">Index</text>
<text class="leg" x="96.0" y="45" fill="#4a4d58">·</text>
<text class="leg" x="103.5" y="45" textLength="12.6" lengthAdjust="spacingAndGlyphs" fill="#4a4d58">1D</text>
<text class="leg" x="120.7" y="45" fill="#4a4d58">·</text>
<text class="leg" x="128.7" y="45" textLength="31.5" lengthAdjust="spacingAndGlyphs" fill="#4a4d58">SPCFD</text>
<text class="leg" x="169" y="45" textLength="7.4" lengthAdjust="spacingAndGlyphs" fill="#4a4d58">O</text>
<text class="leg" x="177.2" y="45" textLength="44" lengthAdjust="spacingAndGlyphs" fill="#16181f" stroke="#16181f" stroke-width="0.12">6,672.14</text>
<text class="leg" x="229" y="45" textLength="6.6" lengthAdjust="spacingAndGlyphs" fill="#4a4d58">H</text>
<text class="leg" x="236.6" y="45" textLength="45.8" lengthAdjust="spacingAndGlyphs" fill="#16181f" stroke="#16181f" stroke-width="0.12">6,705.86</text>
<text class="leg" x="290.2" y="45" textLength="4.6" lengthAdjust="spacingAndGlyphs" fill="#4a4d58">L</text>
<text class="leg" x="295.4" y="45" textLength="45" lengthAdjust="spacingAndGlyphs" fill="#16181f" stroke="#16181f" stroke-width="0.12">6,646.87</text>
<text class="leg" x="348.6" y="45" textLength="5.6" lengthAdjust="spacingAndGlyphs" fill="#4a4d58">C</text>
<text class="leg" x="354.2" y="45" textLength="46.2" lengthAdjust="spacingAndGlyphs" fill="#16181f" stroke="#16181f" stroke-width="0.12">6,696.20</text>
<text class="leg" x="409" y="45" textLength="82.2" lengthAdjust="spacingAndGlyphs" fill="#16181f" stroke="#16181f" stroke-width="0.12">−41.28 (−0.61%)</text>
<text class="leg" x="17.6" y="62.4" textLength="125.6" lengthAdjust="spacingAndGlyphs" fill="#4a4d58">Ichimoku (9, 26, 52, 26)</text>
<text class="leg" x="151.2" y="62.4" textLength="44.8" lengthAdjust="spacingAndGlyphs" fill="#2196f3" stroke="#2196f3" stroke-width="0.22">6,750.67</text>
<text class="leg" x="204" y="62.4" textLength="44.8" lengthAdjust="spacingAndGlyphs" fill="#a8232d" stroke="#a8232d" stroke-width="0.22">6,735.56</text>
<text class="leg" x="257.6" y="62.4" textLength="44.2" lengthAdjust="spacingAndGlyphs" fill="#4a9e2f" stroke="#4a9e2f" stroke-width="0.22">6,696.20</text>
<text class="leg" x="310" y="62.4" textLength="44.6" lengthAdjust="spacingAndGlyphs" fill="#55b15a" stroke="#55b15a" stroke-width="0.22">6,743.12</text>
<text class="leg" x="362.6" y="62.4" textLength="45" lengthAdjust="spacingAndGlyphs" fill="#f5525c" stroke="#f5525c" stroke-width="0.22">6,682.16</text>
<text class="leg" x="17.6" y="79" textLength="15.4" lengthAdjust="spacingAndGlyphs" fill="#4a4d58">Vol</text>
<text class="leg" x="40.7" y="79" textLength="17.2" lengthAdjust="spacingAndGlyphs" fill="#26a69a" stroke="#26a69a" stroke-width="0.22">557</text>
<text class="leg" x="60.4" y="79" textLength="9.3" lengthAdjust="spacingAndGlyphs" fill="#26a69a" stroke="#26a69a" stroke-width="0.22">M</text>
<text class="leg" x="17.6" y="478.8" textLength="74.4" lengthAdjust="spacingAndGlyphs" fill="#787b86" style="font-size:11.6px">RSI (14, close)</text>
<text class="leg" x="100.4" y="478.8" textLength="27" lengthAdjust="spacingAndGlyphs" fill="#1c1e26" style="font-size:11.6px;stroke:#1c1e26;stroke-width:0.35px">44.81</text>
<rect x="847.5" y="30.5" width="56.5" height="25.5" rx="3.5" fill="#fff" stroke="#e8e9ec" stroke-width="1"/>
<text class="leg" x="856.4" y="48" textLength="20" lengthAdjust="spacingAndGlyphs" fill="#16181f" stroke="#16181f" stroke-width="0.12">USD</text>
<text class="ax" x="852.6" y="89.3" textLength="45.6" lengthAdjust="spacingAndGlyphs" fill="#50535e">6,900.00</text>
<text class="ax" x="852.6" y="136.6" textLength="45.6" lengthAdjust="spacingAndGlyphs" fill="#50535e">6,800.00</text>
<text class="ax" x="852.6" y="230.89999999999998" textLength="45.6" lengthAdjust="spacingAndGlyphs" fill="#50535e">6,600.00</text>
<text class="ax" x="852.6" y="278.09999999999997" textLength="45.6" lengthAdjust="spacingAndGlyphs" fill="#50535e">6,500.00</text>
<text class="ax" x="852.6" y="325.3" textLength="45.6" lengthAdjust="spacingAndGlyphs" fill="#50535e">6,400.00</text>
<text class="ax" x="852.6" y="372.5" textLength="45.6" lengthAdjust="spacingAndGlyphs" fill="#50535e">6,300.00</text>
<text class="ax" x="852.6" y="419.7" textLength="45.6" lengthAdjust="spacingAndGlyphs" fill="#50535e">6,200.00</text>
<text class="ax" x="852.6" y="185.9" textLength="45.6" lengthAdjust="spacingAndGlyphs" fill="#101218" style="fill:#101218" stroke="#101218" stroke-width="0.3">6,696.20</text>
<text class="ax" x="852.6" y="199.2" textLength="45.6" lengthAdjust="spacingAndGlyphs" fill="#3c3f49" style="fill:#3c3f49">06:01:10</text>
<text class="ax" x="852.6" y="488" textLength="28.8" lengthAdjust="spacingAndGlyphs" fill="#50535e">50.00</text>
<text class="ax" x="48.4" y="526.2" textLength="20.2" lengthAdjust="spacingAndGlyphs" fill="#4f525d" style="fill:#494c57;stroke:#494c57;stroke-width:0.6px">Aug</text>
<text class="ax" x="233.1" y="526.2" textLength="19.4" lengthAdjust="spacingAndGlyphs" fill="#4f525d" style="fill:#494c57;stroke:#494c57;stroke-width:0.6px">Sep</text>
<text class="ax" x="418.1" y="526.2" textLength="18.4" lengthAdjust="spacingAndGlyphs" fill="#4f525d" style="fill:#494c57;stroke:#494c57;stroke-width:0.6px">Oct</text>
<text class="ax" x="619.0" y="526.2" textLength="20.8" lengthAdjust="spacingAndGlyphs" fill="#4f525d" style="fill:#494c57;stroke:#494c57;stroke-width:0.6px">Nov</text>
<text class="ax" x="785.9" y="526.2" textLength="20.2" lengthAdjust="spacingAndGlyphs" fill="#4f525d" style="fill:#494c57;stroke:#494c57;stroke-width:0.6px">Dec</text>
<g fill="#d9d9d9"><path d="M11.8 557.8 H25.6 V572.2 H18.6 V564.8 H11.8 Z"/><circle cx="28.9" cy="560.9" r="2.8"/><path d="M33.6 557.8 H40.8 L34.4 572.2 H27.2 Z"/></g>
<text class="leg" x="48.5" y="572.2" textLength="117.3" lengthAdjust="spacingAndGlyphs" fill="#d9d9d9" style="font-size:19.5px;font-weight:bold">TradingView</text>
</g>
</svg></body></html>
